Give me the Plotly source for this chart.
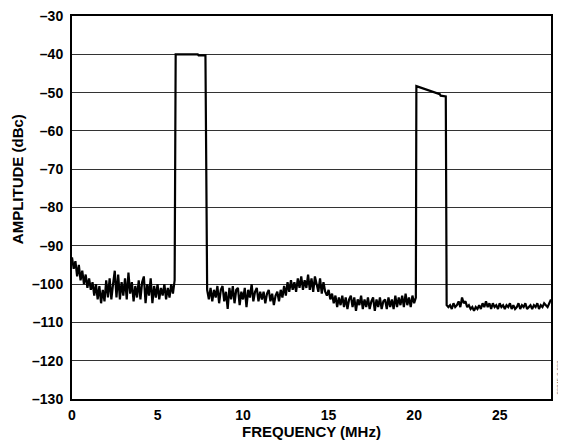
import numpy as np
import plotly.graph_objects as go

# noise floor below the first band, 0.0 .. 6.0 MHz, 0.1 MHz bins
noise_low_start = 0.0
noise_low = [
    -93.0, -96.0, -94.0, -98.0, -95.0, -99.0, -96.5, -100.0, -97.5, -101.0,
    -98.5, -101.5, -99.5, -103.0, -100.0, -104.0, -100.5, -105.0, -101.5, -104.5,
    -99.0, -103.5, -98.5, -104.0, -100.0, -96.5, -103.5, -97.5, -104.0, -99.5,
    -103.0, -98.5, -104.0, -97.0, -102.5, -99.5, -104.5, -100.5, -103.5, -99.0,
    -104.0, -99.5, -98.0, -105.0, -100.0, -103.0, -98.5, -105.0, -100.5, -103.5,
    -100.0, -104.0, -101.0, -103.0, -100.0, -104.0, -101.0, -103.5, -100.0, -102.5,
    -99.0,
]

# first band (6.06 .. 7.8 MHz)
band1_freq = [6.06, 7.35, 7.40, 7.80]
band1_amp = [-40.0, -40.0, -40.3, -40.3]

# noise between the bands, 7.9 .. 20.1 MHz
noise_mid_start = 7.9
noise_mid = [
    -101.5, -104.0, -101.0, -104.5, -101.5, -103.5, -100.5, -105.0, -101.5, -100.5,
    -104.5, -102.0, -106.5, -101.0, -104.0, -100.5, -105.0, -101.5, -101.0, -105.5,
    -102.0, -104.0, -101.0, -106.0, -101.5, -103.5, -100.0, -104.5, -102.0, -101.0,
    -104.5, -102.0, -104.0, -102.0, -105.0, -102.5, -101.5, -104.5, -102.5, -105.5,
    -103.0, -102.0, -104.5, -101.5, -103.5, -100.5, -103.0, -99.5, -102.0, -99.0,
    -101.5, -99.5, -102.0, -98.5, -101.0, -98.0, -101.5, -99.0, -101.0, -97.5,
    -101.5, -98.5, -102.0, -98.0, -100.5, -102.0, -98.5, -102.5, -99.5, -102.0,
    -103.0, -101.5, -104.0, -102.5, -105.0, -103.0, -106.0, -103.5, -105.5, -103.0,
    -106.0, -103.5, -106.5, -104.0, -103.0, -106.0, -103.5, -107.0, -104.0, -105.5,
    -103.0, -106.5, -104.0, -106.0, -103.5, -106.5, -104.5, -103.5, -107.0, -104.0,
    -106.0, -103.5, -106.5, -104.5, -104.0, -106.5, -103.5, -106.0, -104.0, -106.5,
    -103.0, -106.0, -103.5, -105.5, -103.0, -106.0, -102.5, -105.5, -103.5, -106.0,
    -103.0, -105.0, -103.5,
]

# second band (20.13 .. 21.85 MHz)
band2_freq = [20.13, 21.50, 21.55, 21.85]
band2_amp = [-48.3, -50.4, -50.8, -51.0]

# noise above the second band, 21.9 .. 28.0 MHz
noise_high_start = 21.9
noise_high = [
    -105.5, -106.0, -105.5, -106.5, -105.0, -106.0, -105.5, -104.5, -106.0, -103.5,
    -105.0, -104.5, -106.0, -105.5, -106.5, -106.0, -107.0, -106.0, -106.5, -105.5,
    -106.5, -105.0, -106.0, -104.5, -106.0, -105.0, -106.5, -105.0, -106.0, -105.5,
    -106.5, -105.0, -106.0, -105.5, -106.5, -105.5, -106.0, -105.0, -106.5, -105.5,
    -106.5, -106.0, -105.0, -106.5, -105.5, -106.0, -105.0, -106.5, -106.0, -105.5,
    -106.5, -105.5, -106.0, -105.0, -106.5, -105.5, -106.0, -105.0, -105.5, -106.0,
    -105.0, -104.0,
]

y_ticks = [-30, -40, -50, -60, -70, -80, -90, -100, -110, -120, -130]
x_ticks = [0, 5, 10, 15, 20, 25]


def bins(start, values):
    return list(np.round(start + 0.1 * np.arange(len(values)), 2))


freq = (bins(noise_low_start, noise_low) + band1_freq
        + bins(noise_mid_start, noise_mid) + band2_freq
        + bins(noise_high_start, noise_high))
amp = noise_low + band1_amp + noise_mid + band2_amp + noise_high

font = "Liberation Sans, Arial, Helvetica, sans-serif"

fig = go.Figure()
fig.add_trace(go.Scatter(
    x=freq, y=amp, mode="lines",
    line=dict(color="black", width=2.2),
    showlegend=False,
))

# page body adds an 8px margin, so the figure is 8px smaller each way
fig.update_layout(
    width=558, height=437,
    margin=dict(l=64, r=15, t=8, b=46),
    paper_bgcolor="white", plot_bgcolor="white",
    font=dict(family=font, color="black"),
)
fig.update_xaxes(
    range=[0, 28], showgrid=False, zeroline=False, automargin=False,
    showline=True, linecolor="black", linewidth=2, mirror=True,
    tickvals=x_ticks, ticktext=[f"<b>{v}</b>" for v in x_ticks],
    tickfont=dict(size=14), ticks="", ticklabelstandoff=2,
    title=dict(text="<b>FREQUENCY (MHz)</b>", font=dict(size=15), standoff=1),
)
fig.update_yaxes(
    range=[-130, -30], zeroline=False, automargin=False,
    showgrid=True, gridcolor="#333333", gridwidth=1.3,
    showline=True, linecolor="black", linewidth=2, mirror=True,
    tickvals=y_ticks,
    ticktext=[f"<b>\u2013{abs(v)}</b>" for v in y_ticks],
    tickfont=dict(size=14), ticks="", ticklabelstandoff=4,
    ticklabeloverflow="allow",
)
fig.add_annotation(
    text="<b>AMPLITUDE (dBc)</b>", x=0, y=0.574, xref="paper", yref="paper",
    xanchor="center", yanchor="middle", xshift=-55,
    textangle=-90, showarrow=False, font=dict(size=15),
)
fig.add_annotation(
    text="03045-0-020", x=1.0, y=0.0, xref="paper", yref="paper",
    xanchor="left", yanchor="bottom", xshift=2, yshift=2,
    textangle=-90, showarrow=False,
    font=dict(size=6, color="#666666"),
)

fig.write_html("out.html")
